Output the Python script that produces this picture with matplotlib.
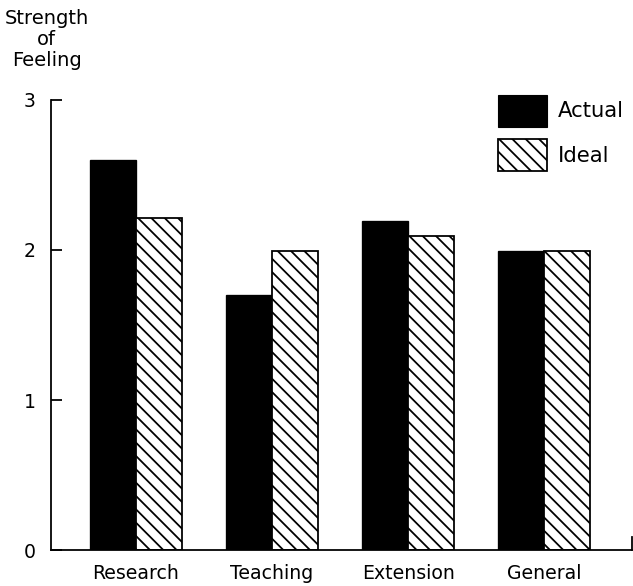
import numpy as np
import matplotlib
matplotlib.use('Agg')
import matplotlib.pyplot as plt
from matplotlib.patches import Patch

# 数据
categories = ['Research', 'Teaching', 'Extension', 'General']
actual = [2.6, 1.7, 2.19, 1.99]
ideal = [2.21, 1.99, 2.09, 1.99]
yticks = [0, 1, 2, 3]

plt.rcParams['font.family'] = ['DejaVu Sans']
plt.rcParams['hatch.linewidth'] = 1.6

dpi = 80
fig = plt.figure(figsize=(633 / dpi, 586 / dpi), dpi=dpi)
ax = fig.add_axes([0.0806, 0.0614, 0.918, 0.768])

x = np.arange(len(categories))
w = 0.34
ax.bar(x - w / 2, actual, w, color='black', edgecolor='black', linewidth=1.2)
ax.bar(x + w / 2, ideal, w, color='white', edgecolor='black', linewidth=1.6, hatch='\\\\')

xmax = 3.647
ax.set_xlim(-0.625, xmax)
ax.set_ylim(0, 3)
ax.set_yticks(yticks)
ax.set_xticks(x)
ax.set_xticklabels(categories)
ax.tick_params(axis='x', length=0, pad=13, labelsize=17)
ax.tick_params(axis='y', direction='in', length=10, width=1.6, pad=14, labelsize=17)
# 右端的小竖线
ax.axvline(xmax, ymin=0, ymax=0.03, color='black', linewidth=1.6, clip_on=False)

for s in ['top', 'right']:
    ax.spines[s].set_visible(False)
for s in ['left', 'bottom']:
    ax.spines[s].set_linewidth(1.6)

handles = [Patch(facecolor='black', edgecolor='black', label='Actual'),
           Patch(facecolor='white', edgecolor='black', linewidth=1.6, hatch='\\\\', label='Ideal')]
ax.legend(handles=handles, loc='upper right', bbox_to_anchor=(0.985, 1.012),
          frameon=False, fontsize=19, handlelength=2.3, handleheight=1.95,
          labelspacing=0.6, handletextpad=0.5, borderpad=0, borderaxespad=0)

fig.text(0.074, 0.985, 'Strength\nof\nFeeling', ha='center', va='top',
         fontsize=17.5, linespacing=1.15)

plt.savefig('out.png', dpi=dpi)
